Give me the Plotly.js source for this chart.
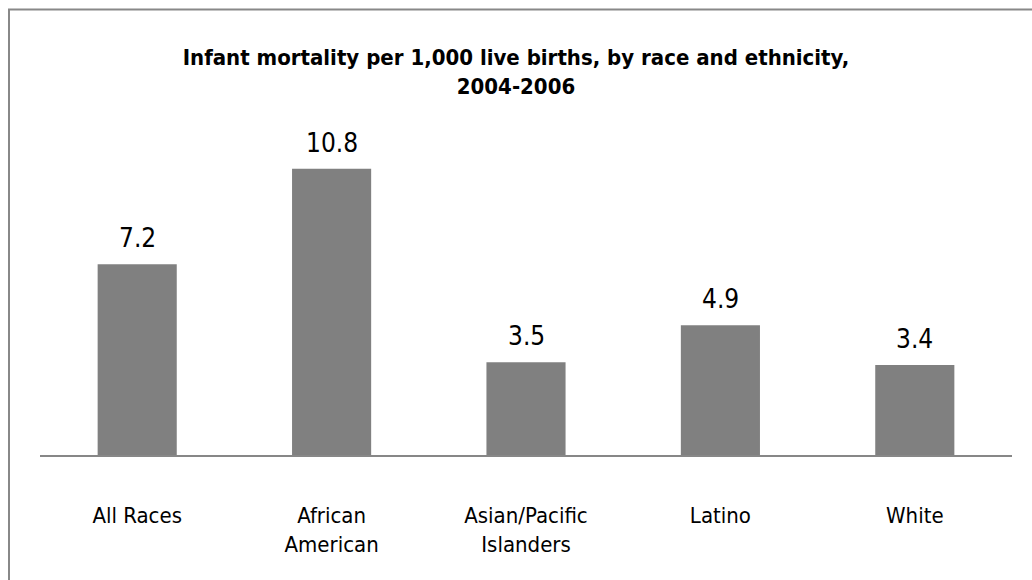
<!DOCTYPE html>
<html>
<head>
<meta charset="utf-8">
<script src="https://cdn.plot.ly/plotly-3.0.1.min.js"></script>
<style>
  html, body { margin: 0; padding: 0; background: #ffffff; }
  #chart { width: 1032px; height: 580px; }
</style>
</head>
<body>
<div id="chart"></div>
<script>
// ---- data ----
var categories = ["All Races", "African<br>American", "Asian/Pacific<br>Islanders", "Latino", "White"];
var mortality = [7.2, 10.8, 3.5, 4.9, 3.4];
var valueLabels = ["7.2", "10.8", "3.5", "4.9", "3.4"];
var chartTitle = "Infant mortality per 1,000 live births, by race and ethnicity,<br>2004-2006";

// ---- layout geometry (pixels) ----
var W = 1032, H = 580;
var mL = 40, mR = 20, mT = 137.4, mB = 125;
var plotW = W - mL - mR, plotH = H - mT - mB;
function px2paperX(px) { return (px - mL) / plotW; }
function px2paperY(py) { return (H - mB - py) / plotH; }

var FONT = "'DejaVu Sans Condensed', 'Liberation Sans', sans-serif";

var trace = {
  type: "bar",
  x: categories,
  y: mortality,
  marker: { color: "#808080", line: { width: 0 } },
  hoverinfo: "skip"
};

var annotations = categories.map(function (c, i) {
  return {
    x: c, y: mortality[i], xref: "x", yref: "y",
    text: valueLabels[i], showarrow: false,
    yanchor: "bottom", yshift: 9,
    font: { family: FONT, size: 26, color: "#000000" }
  };
});

var layout = {
  width: W, height: H,
  margin: { l: mL, r: mR, t: mT, b: mB, pad: 0 },
  paper_bgcolor: "#ffffff",
  plot_bgcolor: "#ffffff",
  showlegend: false,
  bargap: 0.593,
  title: {
    text: chartTitle,
    font: { family: FONT, size: 22, color: "#000000", weight: "bold" },
    x: 0.5, xref: "container", xanchor: "center",
    y: 1 - 65 / H, yref: "container", yanchor: "top"
  },
  xaxis: {
    showline: true, linecolor: "#878787", linewidth: 2,
    ticks: "", showgrid: false, zeroline: false,
    ticklabelstandoff: 40,
    tickfont: { family: FONT, size: 22, color: "#000000" },
    fixedrange: true
  },
  yaxis: {
    range: [0, 12], visible: false, showgrid: false, zeroline: false,
    fixedrange: true
  },
  annotations: annotations,
  shapes: [{
    type: "rect", xref: "paper", yref: "paper",
    x0: px2paperX(9), x1: px2paperX(1060),
    y0: px2paperY(620), y1: px2paperY(10),
    line: { color: "#888888", width: 2 },
    fillcolor: "rgba(0,0,0,0)", layer: "below"
  }]
};

Plotly.newPlot("chart", [trace], layout, { displayModeBar: false, staticPlot: true });
</script>
</body>
</html>
